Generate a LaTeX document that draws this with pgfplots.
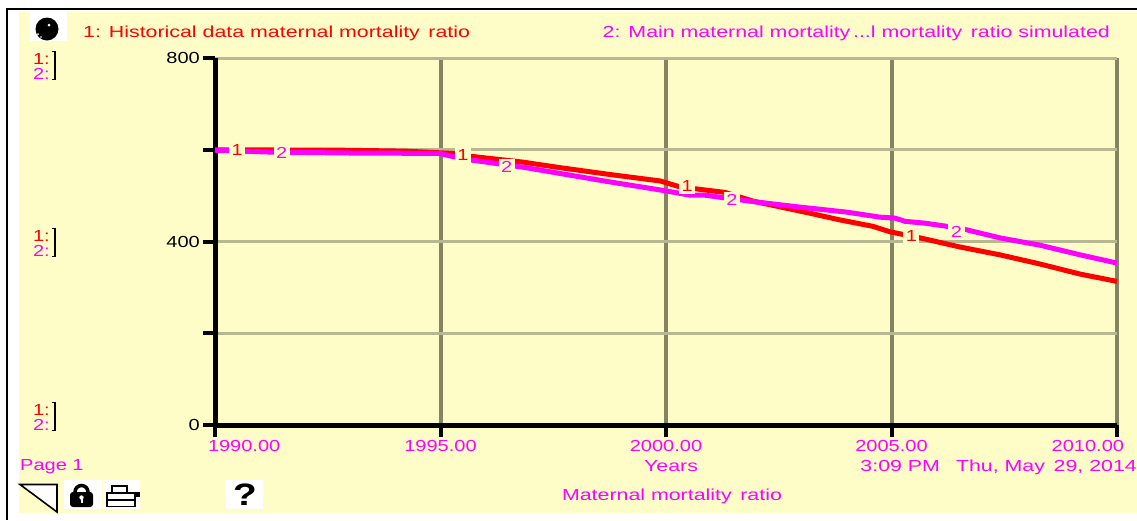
\documentclass[border=0pt]{standalone}
\usepackage{pgfplots}
\pgfplotsset{compat=1.18}
\usepackage{fontspec}
\setmainfont[FakeStretch=1.25]{Liberation Sans}
\newfontfamily\wide[FakeStretch=1.335]{Liberation Sans}
\definecolor{cream}{HTML}{FEFDC8}
\definecolor{vgrid}{HTML}{848462}
\definecolor{hgrid}{HTML}{B7B792}
\definecolor{mag}{HTML}{FF00FF}
\definecolor{rd}{HTML}{FF0000}
\pgfplotstableread{
year val
1990 600
1992.84 599
1994.21 597
1995.28 592
1995.65 586
1996.83 573
1997.65 561
1998.76 546
1999.87 532
2000.31 519
2001.31 507
2001.93 488
2003.13 463
2003.86 447
2004.59 433
2004.97 421
2005.63 408
2006.52 388
2007.40 371
2008.29 351
2009.18 329
2010 313
}\histdata
\pgfplotstableread{
year val
1990 599
1991.2 595
1992.84 593
1994.99 592
1995.28 585
1995.65 578
1996.83 562
1998.69 531
2000.02 510
2000.53 501
2000.86 501
2001.31 495
2002.02 486
2002.97 475
2004.01 464
2004.75 453
2005.08 451
2005.30 444
2005.74 440
2006.52 429
2007.40 408
2008.29 392
2009.18 371
2010 353
}\simdata
\newcommand{\fs}{\fontsize{16}{16}\selectfont}
\begin{document}
\begin{tikzpicture}[font=\fs]
\begin{scope}[x=1pt,y=-1pt]
\useasboundingbox (0,0) rectangle (1137,520);
\fill[white] (0,0) rectangle (1137,520);
\fill[cream] (19,12) rectangle (1137,513);
\fill[black] (6,8) rectangle (1137,10);
\fill[black] (6,8) rectangle (8,520);
% icons
\fill[white] (30,12) rectangle (67,41);
\fill[black] (47,29) circle (11.5);
\fill[white] (49,25) circle (1.5);
\fill[white] (38,34) circle (1);
\fill[white] (41,37) circle (.8);
\fill[white] (64,480) rectangle (102,509);
\fill[white] (103,480) rectangle (140,509);
\fill[white] (226,480) rectangle (263,509);
\draw[black,line width=1.6pt,fill=white] (20,484.5) -- (57,484.5) -- (57,512) -- cycle;
\draw[black,line width=3.5pt] (75,494) -- (75,492) arc[start angle=-180,end angle=0,radius=6.5] -- (88,494);
\fill[black,rounded corners=3pt] (70,492) rectangle (93,507);
\fill[white] (81.5,497.5) circle (2.2);
\fill[white] (80.5,497.5) rectangle (82.5,503);
\draw[black,line width=1.5pt] (112,493) -- (112,486) -- (127,486) -- (127,493);
\draw[black,line width=1.5pt] (107,493) rectangle (135,506.5);
\draw[black,line width=1.5pt] (107,500) -- (135,500);
\fill[black] (135,492) rectangle (140,497);
\node[font=\fontsize{31}{31}\selectfont\bfseries,inner sep=0] at (245,495) {?};
% header
\node[anchor=base west,inner sep=0,text=rd] at (83,37) {\wide 1: Historical data maternal mortality\, ratio};
\node[anchor=base east,inner sep=0,text=mag] at (1110,37) {\wide 2: Main maternal mortality\,...l mortality\, ratio simulated};
% scales
\foreach \y in {58,235,409}{
\node[anchor=base east,inner sep=0,text=rd] at (50,\y+6) {1:};
\node[anchor=base east,inner sep=0,text=mag] at (50,\y+21) {2:};
\draw[black,line width=1.7pt] (51.5,\y-6.5) -- (55,\y-6.5) -- (55,\y+21.5) -- (51.5,\y+21.5);
}
% footer
\node[anchor=base west,inner sep=0,text=mag] at (20,470) {Page 1};
\node[anchor=base,inner sep=0,text=mag] at (671,471) {\wide Years};
\node[anchor=base east,inner sep=0,text=mag] at (1137,471) {\wide 3:09 PM\quad Thu, May\, 29, 2014};
\node[anchor=base,inner sep=0,text=mag] at (672,500) {\wide Maternal mortality\, ratio};
\end{scope}
\begin{axis}[
  at={(215pt,-425pt)},anchor=origin,
  scale only axis,width=902pt,height=367pt,
  xmin=1990,xmax=2010,ymin=0,ymax=800,
  axis lines=left,
  axis line style={-,black,line width=5pt},
  clip=false,
  xtick={1990,1995,2000,2005,2010},
  ytick={0,200,400,600,800},
  yticklabels={0,,400,,800},
  xticklabels={\makebox[0pt][l]{\hspace*{-7pt}1990.00},1995.00,2000.00,2005.00,\makebox[0pt][r]{2010.00\hspace*{-7pt}}},
  xticklabel style={text=mag,font=\fs,inner sep=0,yshift=-14pt,anchor=base,text height=11.5pt},
  yticklabel style={text=black,font=\fs,inner sep=0,xshift=-3pt},
  major tick length=12pt,
  tick align=outside,
  tick style={black,line width=4pt},
  xmajorgrids,ymajorgrids,
  x grid style={vgrid,line width=4pt},
  y grid style={hgrid,line width=3pt},
]
\addplot[rd,line width=5pt,line join=round] table[x=year,y=val]{\histdata};
\addplot[mag,line width=5pt,line join=round] table[x=year,y=val]{\simdata};
\foreach \xx/\yy in {1990.49/600,1995.50/588,2000.47/522,2005.44/412}{
\edef\tmp{\noexpand\node[fill=cream,inner sep=2.5pt,text=rd] at (axis cs:\xx,\yy) {1};}\tmp}
\foreach \xx/\yy in {1991.48/594,1996.47/563,2001.46/490,2006.44/421}{
\edef\tmp{\noexpand\node[fill=cream,inner sep=2.5pt,text=mag] at (axis cs:\xx,\yy) {2};}\tmp}
\end{axis}
\end{tikzpicture}
\end{document}
